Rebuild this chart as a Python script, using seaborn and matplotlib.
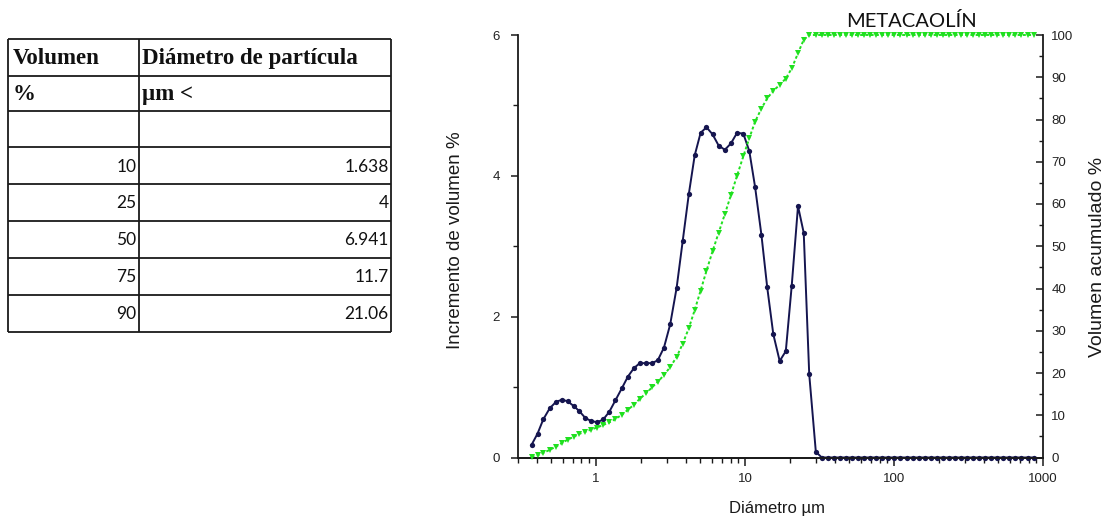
import numpy as np
import pandas as pd
import matplotlib
matplotlib.use("Agg")
import matplotlib.pyplot as plt
from matplotlib.ticker import MultipleLocator, LogLocator, FixedLocator, NullFormatter
import seaborn as sns

# ---------------- data ----------------
table_header1 = ["Volumen", "Diámetro de partícula"]
table_header2 = ["%", "µm <"]
table_volume = ["10", "25", "50", "75", "90"]
table_diameter = ["1.638", "4", "6.941", "11.7", "21.06"]

diam = [0.37, 0.406, 0.443, 0.49, 0.54, 0.59, 0.645, 0.71, 0.773, 0.85, 0.925,
        1.02, 1.12, 1.23, 1.35, 1.49, 1.64, 1.80, 1.97, 2.17, 2.38, 2.60, 2.86,
        3.15, 3.48, 3.82, 4.2, 4.6, 5.04, 5.52, 6.06, 6.66, 7.33, 8.05, 8.85,
        9.75, 10.7, 11.7, 12.9, 14.1, 15.5, 17.1, 18.8, 20.6, 22.7, 24.8, 27.0,
        29.9,
        32.8, 36.0, 39.5, 43.4, 47.7, 52.3, 57.5, 63.1, 69.3, 76.1, 83.5, 91.7,
        100.7, 110.6, 121.4, 133.3, 146.4, 160.7, 176.5, 193.7, 212.7, 233.6,
        256.5, 281.6, 309.2, 339.5, 372.7, 409.2, 449.3, 493.4, 541.7, 594.8,
        653.1, 717.0, 787.3, 864.5]

increment = [0.18, 0.34, 0.54, 0.70, 0.79, 0.82, 0.80, 0.73, 0.66, 0.56, 0.52,
             0.50, 0.54, 0.65, 0.81, 0.98, 1.15, 1.27, 1.34, 1.34, 1.34, 1.38, 1.56,
             1.89, 2.41, 3.07, 3.74, 4.29, 4.61, 4.69, 4.59, 4.43, 4.37, 4.46, 4.61,
             4.60, 4.35, 3.84, 3.16, 2.42, 1.75, 1.37, 1.51, 2.44, 3.57, 3.19, 1.18,
             0.08,
             0, 0, 0, 0, 0, 0, 0, 0, 0, 0, 0, 0,
             0, 0, 0, 0, 0, 0, 0, 0, 0, 0,
             0, 0, 0, 0, 0, 0, 0, 0, 0, 0,
             0, 0, 0, 0]

cumulative = [0.2, 0.5, 1.1, 1.8, 2.6, 3.4, 4.2, 4.9, 5.6, 6.1, 6.6,
              7.1, 7.7, 8.3, 9.1, 10.1, 11.3, 12.5, 13.9, 15.2, 16.6, 17.9, 19.5,
              21.4, 23.8, 26.9, 30.6, 34.9, 39.5, 44.2, 48.8, 53.2, 57.6, 62.1, 66.7,
              71.3, 75.6, 79.5, 82.6, 85.0, 86.8, 88.2, 89.7, 92.1, 95.7, 98.9, 100,
              100,
              100, 100, 100, 100, 100, 100, 100, 100, 100, 100, 100, 100,
              100, 100, 100, 100, 100, 100, 100, 100, 100, 100,
              100, 100, 100, 100, 100, 100, 100, 100, 100, 100,
              100, 100, 100, 100]

x_ticks = [1, 10, 100, 1000]
x_ticklabels = ["1", "10", "100", "1000"]
left_ticks = [0, 2, 4, 6]
right_ticks = [0, 10, 20, 30, 40, 50, 60, 70, 80, 90, 100]

df = pd.DataFrame({"diam": diam, "inc": increment, "cum": cumulative})

# ---------------- style ----------------
sns.set_style("ticks")
plt.rcParams["font.family"] = ["Liberation Sans", "DejaVu Sans"]

W, H = 1109, 520
fig = plt.figure(figsize=(W / 100, H / 100), dpi=100)

# ---------------- table (left) ----------------
axt = fig.add_axes([0, 0, 1, 1])
axt.set_xlim(0, W)
axt.set_ylim(H, 0)
axt.axis("off")
col_edges = [8.3, 138.5, 390.7]
row_edges = [39.3, 76.0, 110.7, 147.3, 184.0, 221.0, 257.7, 295.0, 331.7]
axt.hlines(row_edges, col_edges[0], col_edges[-1], color="#1a1a1a", lw=1.3)
axt.vlines(col_edges, row_edges[0], row_edges[-1], color="#1a1a1a", lw=1.3)

serif_bold = dict(family=["Liberation Serif", "DejaVu Serif"], weight="bold",
                  fontsize=16.5, color="#111111", va="center", ha="left")
for j, txt in enumerate(table_header1):
    axt.text(col_edges[j] + 4, (row_edges[0] + row_edges[1]) / 2 + 1, txt, **serif_bold)
for j, txt in enumerate(table_header2):
    axt.text(col_edges[j] + 4, (row_edges[1] + row_edges[2]) / 2 + 1, txt, **serif_bold)

num_style = dict(family=["Lato", "DejaVu Sans"], fontsize=12.5, color="#111111",
                 va="center", ha="right")
for i, (v, d) in enumerate(zip(table_volume, table_diameter)):
    yc = (row_edges[3 + i] + row_edges[4 + i]) / 2 + 1
    axt.text(col_edges[1] - 2, yc, v, **num_style)
    axt.text(col_edges[2] - 2, yc, d, **num_style)

# ---------------- chart ----------------
left, right = 518 / W, 1043 / W
bottom, top = 1 - 457.5 / H, 1 - 35 / H
ax = fig.add_axes([left, bottom, right - left, top - bottom])
ax2 = ax.twinx()

navy = "#15154f"
green = "#1fe01f"

sns.lineplot(data=df, x="diam", y="inc", ax=ax, color=navy, marker="o",
             markersize=3.8, markeredgewidth=0, linewidth=1.4, sort=False,
             clip_on=False, zorder=3)
sns.lineplot(data=df, x="diam", y="cum", ax=ax2, color=green, marker="v",
             markersize=4.2, markeredgewidth=0, linewidth=1.4, linestyle=(0, (1.5, 1.2)),
             sort=False, clip_on=False, zorder=3)

ax.set_xscale("log")
ax.set_xlim(0.3, 1000)
ax.set_ylim(0, 6)
ax2.set_ylim(0, 100)

ax.xaxis.set_major_locator(FixedLocator(x_ticks))
ax.set_xticklabels(x_ticklabels)
ax.xaxis.set_minor_locator(LogLocator(base=10, subs=np.arange(2, 10) * 1.0, numticks=20))
ax.xaxis.set_minor_formatter(NullFormatter())
ax.set_yticks(left_ticks)
ax.set_yticklabels([str(t) for t in left_ticks])
ax.yaxis.set_minor_locator(MultipleLocator(1))
ax2.set_yticks(right_ticks)
ax2.set_yticklabels([str(t) for t in right_ticks])
ax2.yaxis.set_minor_locator(MultipleLocator(5))

tick_color = "#222222"
ax.tick_params(axis="both", which="major", direction="out", length=6, width=1.1,
               labelsize=9.5, colors="#1a1a1a", labelcolor=tick_color, pad=5)
ax.tick_params(axis="both", which="minor", direction="out", length=3.5, width=1.0,
               colors="#1a1a1a")
ax.tick_params(axis="y", which="major", length=5, pad=8)
ax2.tick_params(axis="y", which="major", direction="in", length=5, width=1.1,
                labelsize=9.5, colors="#1a1a1a", labelcolor=tick_color, pad=6)
ax2.tick_params(axis="y", which="minor", direction="in", length=3, width=1.0,
                colors="#1a1a1a")

for a in (ax, ax2):
    a.spines["top"].set_visible(False)
    for s in a.spines.values():
        s.set_linewidth(1.3)
        s.set_color("#1a1a1a")
ax.spines["right"].set_visible(False)
ax2.spines["left"].set_visible(False)
ax.set_xlabel("")
ax.set_ylabel("")
ax2.set_ylabel("")

fig.text(455 / W, 1 - 240 / H, "Incremento de volumen %", rotation=90,
         ha="center", va="center", fontsize=13.5, color="#1a1a1a")
fig.text(1097 / W, 1 - 257 / H, "Volumen acumulado %", rotation=90,
         ha="center", va="center", fontsize=14, color="#1a1a1a")
fig.text(777 / W, 1 - 508 / H, "Diámetro µm", ha="center", va="center",
         fontsize=12, color="#1a1a1a")
fig.text(911 / W, 1 - 21 / H, "METACAOLÍN", ha="center", va="center",
         fontsize=14.5, family=["Lato", "DejaVu Sans"], color="#111111")

fig.savefig("out.png", dpi=100)
